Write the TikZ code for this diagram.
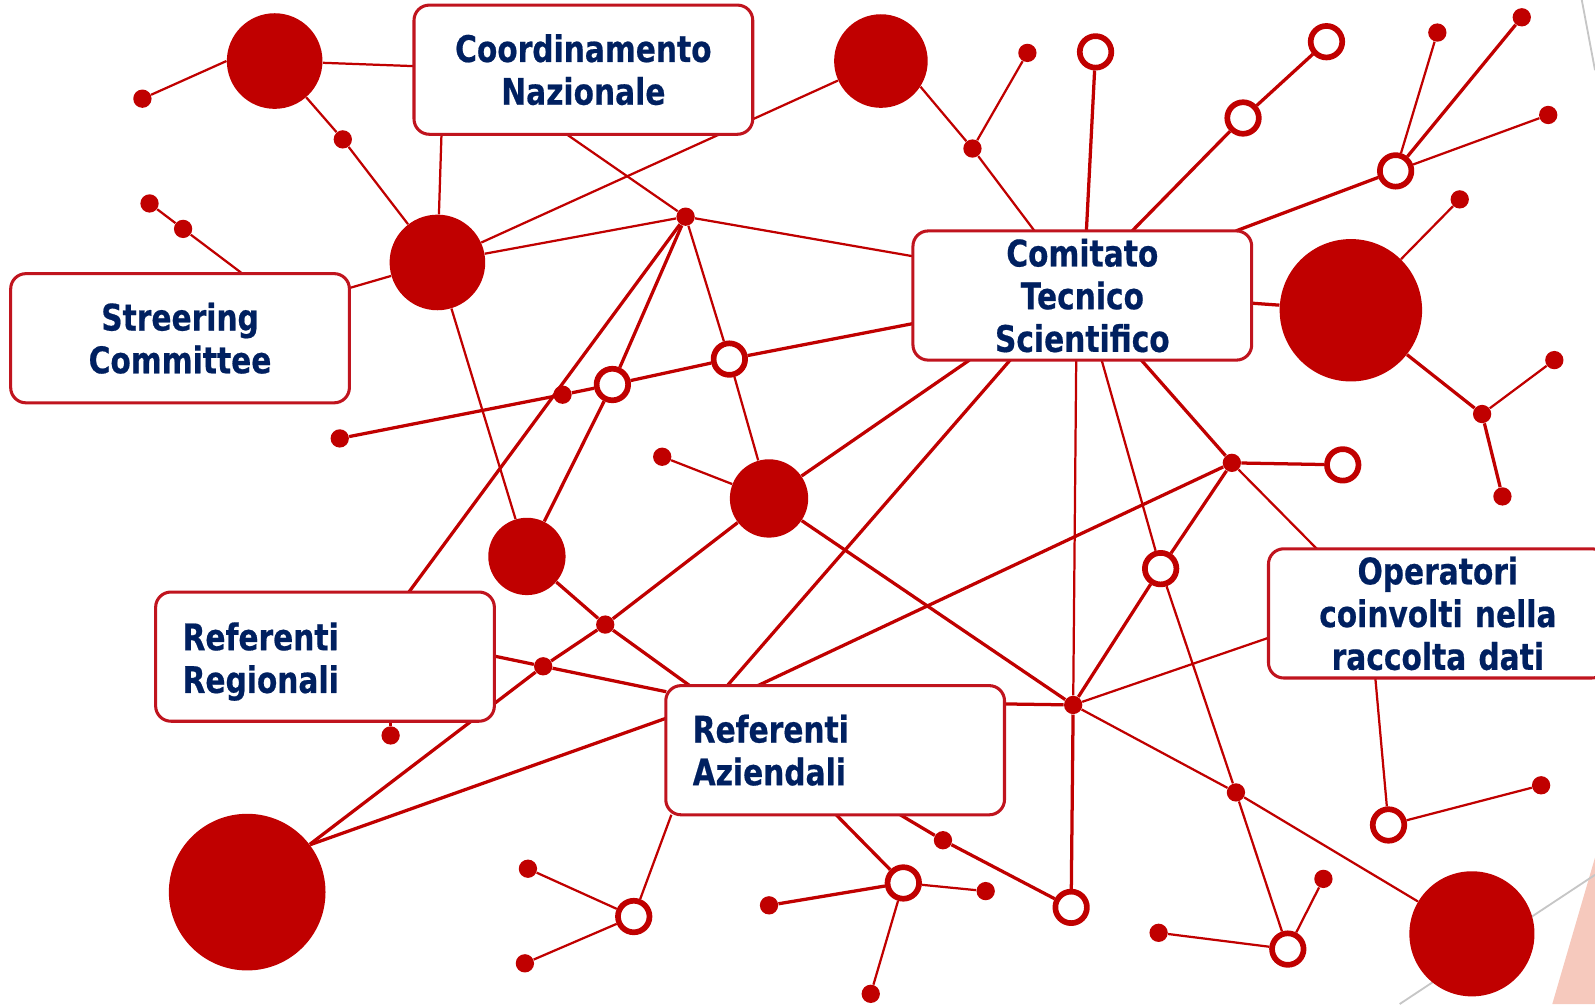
\documentclass[tikz,border=0pt]{standalone}
\usepackage{fontspec}
\newfontfamily\boxfont{DejaVu Sans}[FakeStretch=0.81,BoldFeatures={FakeBold=0.5}]
\usetikzlibrary{backgrounds}
\definecolor{netred}{HTML}{C00000}
\definecolor{boxred}{HTML}{C0141E}
\definecolor{ink}{HTML}{002060}
\definecolor{blush}{HTML}{F6C9BD}
\tikzset{
  hub/.style={circle,fill=netred,inner sep=0pt,minimum size=#1},
  knot/.style={circle,fill=netred,inner sep=0pt,minimum size=9pt},
  ring/.style={circle,draw=netred,fill=white,line width=2.8pt,inner sep=0pt,minimum size=15.5pt},
  orgbox/.style={draw=boxred,fill=white,line width=1.5pt,rounded corners=7.5pt,minimum height=63.5pt,
    text width=140pt,inner xsep=13.25pt,inner ysep=2pt,text=ink,font=\boxfont\bfseries\fontsize{18}{21}\selectfont},
  wire/.style={netred,line width=1.6pt},
  fine/.style={netred,line width=1.1pt}
}
\begin{document}
\begin{tikzpicture}[line cap=round,line join=round,x=0.5pt,y=-0.5pt]
\useasboundingbox (0,0) rectangle (1568,987);
% big circles
\node[hub=47pt] (hA) at (270,60) {};
\node[hub=46pt] (hB) at (866,60) {};
\node[hub=47pt] (hC) at (430,258) {};
\node[hub=70pt] (hD) at (1328,305) {};
\node[hub=38.5pt] (hE) at (756,490) {};
\node[hub=38pt] (hF) at (518,547) {};
\node[hub=77pt] (hG) at (243,877) {};
\node[hub=61.5pt] (hH) at (1447,918) {};
% small dots
\node[knot] (k1) at (140,97) {};
\node[knot] (k2) at (337,137) {};
\node[knot] (k3) at (147,200) {};
\node[knot] (k4) at (180,225) {};
\node[knot] (k5) at (1010,52) {};
\node[knot] (k6) at (956,146) {};
\node[knot] (k7) at (674,213) {};
\node[knot] (k8) at (553,388) {};
\node[knot] (k9) at (334,431) {};
\node[knot] (k10) at (651,449) {};
\node[knot] (k11) at (1413,32) {};
\node[knot] (k12) at (1496,17) {};
\node[knot] (k13) at (1522,113) {};
\node[knot] (k14) at (1435,196) {};
\node[knot] (k15) at (1528,354) {};
\node[knot] (k16) at (1457,407) {};
\node[knot] (k17) at (1477,488) {};
\node[knot] (k18) at (1211,455) {};
\node[knot] (k19) at (595,614) {};
\node[knot] (k20) at (534,655) {};
\node[knot] (k21) at (384,723) {};
\node[knot] (k22) at (1055,693) {};
\node[knot] (k23) at (1215,779) {};
\node[knot] (k24) at (1515,772) {};
\node[knot] (k25) at (927,826) {};
\node[knot] (k26) at (519,854) {};
\node[knot] (k27) at (516,947) {};
\node[knot] (k28) at (756,890) {};
\node[knot] (k29) at (969,876) {};
\node[knot] (k30) at (856,977) {};
\node[knot] (k31) at (1139,917) {};
\node[knot] (k32) at (1301,864) {};
% open circles
\node[ring] (r1) at (1077,51) {};
\node[ring] (r2) at (1304,41) {};
\node[ring] (r3) at (1222,116) {};
\node[ring] (r4) at (1372,168) {};
\node[ring] (r5) at (717,353) {};
\node[ring] (r6) at (602,378) {};
\node[ring] (r7) at (1320,457) {};
\node[ring] (r8) at (1141,559) {};
\node[ring] (r9) at (1365,811) {};
\node[ring] (r10) at (623,901) {};
\node[ring] (r11) at (888,868) {};
\node[ring] (r12) at (1053,892) {};
\node[ring] (r13) at (1266,933) {};
% boxes
\node[orgbox,align=center] (cn) at (573.5,68.5) {Coordinamento\\Nazionale};
\node[orgbox,align=center] (sc) at (177,332.5) {Streering\\Committee};
\node[orgbox,align=center] (cts) at (1064,290.5) {Comitato\\Tecnico\\Scientifico};
\node[orgbox,align=left,text depth=20pt] (rr) at (319.5,645.5) {Referenti\\Regionali};
\node[orgbox,align=left] (ra) at (821,737.5) {Referenti\\Aziendali};
\node[orgbox,align=center] (op) at (1413.5,603) {Operatori\\coinvolti nella\\raccolta dati};
% where the links meet the boxes
\coordinate (cnW) at (407,65);
\coordinate (cnS1) at (434,132);
\coordinate (cnS2) at (557,132);
\coordinate (scE) at (344,283);
\coordinate (scN) at (237,268);
\coordinate (ctsW1) at (898,252);
\coordinate (ctsW2) at (898,318);
\coordinate (ctsN1) at (1017,227);
\coordinate (ctsN2) at (1068,227);
\coordinate (ctsN3) at (1113,227);
\coordinate (ctsN4) at (1215,227);
\coordinate (ctsE) at (1230,298);
\coordinate (ctsS1) at (953,354);
\coordinate (ctsS2) at (993,354);
\coordinate (ctsS3) at (1058,354);
\coordinate (ctsS4) at (1083,354);
\coordinate (ctsS5) at (1122,354);
\coordinate (rrN) at (402,582);
\coordinate (rrE) at (486,645);
\coordinate (rrS) at (384,709);
\coordinate (raN1) at (715,674);
\coordinate (raN2) at (745,674);
\coordinate (raNW) at (678,674);
\coordinate (raW1) at (655,680);
\coordinate (raW2) at (655,706);
\coordinate (raE) at (987,692);
\coordinate (raS1) at (660,801);
\coordinate (raS2) at (822,801);
\coordinate (raS3) at (885,801);
\coordinate (opN) at (1295,540);
\coordinate (opW) at (1247,627);
\coordinate (opS) at (1352,666);
\begin{scope}[on background layer]
\fill[blush] (1526,987)--(1568,843)--(1568,987)--cycle;
\draw[gray!45,line width=0.9pt] (1376,987)--(1568,860);
\draw[gray!45,line width=0.9pt] (1555,0)--(1568,69);
% upper left
\draw[fine] (k1)--(hA.west);
\draw[fine] (hA)--(cnW);
\draw[fine] (hA)--(k2)--(hC);
\draw[fine] (hC)--(cnS1);
\draw[fine] (hC)--(hB);
\draw[fine] (cnS2)--(k7);
\draw[fine] (hC)--(k7);
\draw[fine] (k7)--(ctsW1);
\draw[fine] (scE)--(hC);
\draw[fine] (k3)--(k4)--(scN);
\draw[fine] (hC)--(hF);
\draw[fine] (k7)--(r5)--(hE);
\draw[wire] (k9)--(k8)--(r6)--(r5)--(ctsW2);
\draw[wire] (k7)--(rrN);
\draw[wire] (k7)--(r6)--(hF);
% lower left
\draw[wire] (hE)--(k19)--(k20)--(hG);
\draw[wire] (hF)--(k19)--(raNW);
\draw[wire] (rrE)--(k20)--(raW1);
\draw[fine] (rrS)--(k21);
\draw[wire] (hG.37)--(raW2);
\draw[fine] (k10)--(hE);
% comitato
\draw[fine] (k5)--(k6);
\draw[fine] (hB.-33)--(k6)--(ctsN1);
\draw[wire] (ctsN2)--(r1);
\draw[wire] (ctsN3)--(r3)--(r2);
\draw[wire] (ctsN4)--(r4);
\draw[fine] (r4)--(k11);
\draw[wire] (r4)--(k12);
\draw[fine] (r4)--(k13);
\draw[wire] (ctsE)--(hD);
\draw[fine] (hD)--(k14);
\draw[wire] (hD)--(k16)--(k17);
\draw[fine] (k16)--(k15);
\draw[wire] (ctsS1)--(hE);
\draw[wire] (ctsS2)--(raN1);
\draw[fine] (ctsS3)--(k22);
\draw[wire] (k22)--(r12);
\draw[fine] (ctsS4)--(r8)--(k23)--(r13);
\draw[wire] (ctsS5)--(k18);
\draw[fine] (k18)--(opN);
\draw[wire] (k18)--(r7);
\draw[wire] (k18)--(r8)--(k22);
\draw[wire] (k18)--(raN2);
% lower right
\draw[wire] (hE)--(k22);
\draw[fine] (k22)--(k23)--(hH);
\draw[fine] (k22)--(opW);
\draw[wire] (raE)--(k22);
\draw[fine] (opS)--(r9)--(k24);
\draw[fine] (raS1)--(r10);
\draw[fine] (k26)--(r10)--(k27);
\draw[wire] (raS2)--(r11);
\draw[wire] (k28)--(r11);
\draw[fine] (r11)--(k29);
\draw[fine] (r11)--(k30);
\draw[wire] (raS3)--(k25)--(r12);
\draw[fine] (k31)--(r13)--(k32);
\end{scope}
\end{tikzpicture}
\end{document}
